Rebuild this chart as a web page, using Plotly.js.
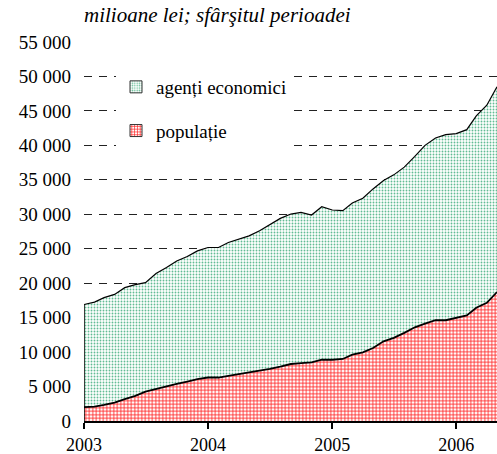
<!DOCTYPE html>
<html>
<head>
<meta charset="utf-8">
<script src="https://cdn.plot.ly/plotly-3.0.1.min.js"></script>
<style>
  html, body { margin: 0; padding: 0; background: #ffffff; }
  #chart { width: 497px; height: 454px; }
</style>
</head>
<body>
<div id="chart"></div>
<script>
// Months (end of period), Jan 2003 .. May 2006
const months = [
  '2003-01','2003-02','2003-03','2003-04','2003-05','2003-06','2003-07','2003-08','2003-09','2003-10','2003-11','2003-12',
  '2004-01','2004-02','2004-03','2004-04','2004-05','2004-06','2004-07','2004-08','2004-09','2004-10','2004-11','2004-12',
  '2005-01','2005-02','2005-03','2005-04','2005-05','2005-06','2005-07','2005-08','2005-09','2005-10','2005-11','2005-12',
  '2006-01','2006-02','2006-03','2006-04','2006-05'
];

// populație (households), milioane lei
const populatie = [
  2000, 2090, 2330, 2670, 3160, 3650, 4270, 4670, 5000, 5390, 5730, 6080,
  6310, 6310, 6560, 6800, 7040, 7330, 7580, 7900, 8270, 8410, 8500, 8890,
  8890, 9000, 9620, 9960, 10600, 11560, 12060, 12790, 13600, 14140, 14620, 14620,
  14970, 15310, 16430, 17160, 18710
];

// agenți economici (companies), milioane lei — stacked on top of populație
const agenti = [
  14900, 15160, 15570, 15700, 16190, 16130, 15800, 16720, 17260, 17840, 18130, 18610,
  18870, 18870, 19350, 19590, 19830, 20270, 20850, 21500, 21760, 21870, 21390, 22210,
  21730, 21520, 22020, 22360, 23080, 23330, 23660, 24050, 24790, 25860, 26450, 26930,
  26730, 26970, 27850, 28670, 29800
];

const seriesNames = ['agenți economici', 'populație'];
const titleText = 'milioane lei; sfârşitul perioadei';
const yTickVals = [0, 5000, 10000, 15000, 20000, 25000, 30000, 35000, 40000, 45000, 50000, 55000];

const FONT = 'Liberation Serif, Times New Roman, serif';
const greenPattern = { shape: '.', fgcolor: '#62bc94', bgcolor: '#ffffff', size: 3, solidity: 0.3 };
const redPattern = { shape: '+', fgcolor: '#ff2020', bgcolor: '#ffffff', size: 3.5, solidity: 0.42 };

const traces = [
  {
    type: 'scatter', mode: 'lines', x: months, y: populatie, stackgroup: 'one',
    fill: 'tozeroy', fillpattern: redPattern, fillcolor: '#ffffff',
    line: { color: '#000000', width: 1.8 }, showlegend: false, hoverinfo: 'skip'
  },
  {
    type: 'scatter', mode: 'lines', x: months, y: agenti, stackgroup: 'one',
    fill: 'tonexty', fillpattern: greenPattern, fillcolor: '#ffffff',
    line: { color: '#000000', width: 1.2 }, showlegend: false, hoverinfo: 'skip'
  },
  // legend entries only (no visible bar)
  {
    type: 'bar', x: [months[0]], y: [null], name: seriesNames[0], legendgroup: 'a',
    marker: { color: '#ffffff', pattern: greenPattern, line: { color: '#333333', width: 1 } }
  },
  {
    type: 'bar', x: [months[0]], y: [null], name: seriesNames[1], legendgroup: 'b',
    marker: { color: '#ffffff', pattern: redPattern, line: { color: '#333333', width: 1 } }
  }
];

const layout = {
  width: 497, height: 454,
  margin: { l: 84, r: 0, t: 42, b: 33, pad: 0 },
  paper_bgcolor: '#ffffff', plot_bgcolor: '#ffffff',
  font: { family: FONT, size: 19, color: '#000000' },
  separators: ', ',
  title: {
    text: titleText,
    font: { family: FONT, size: 21, style: 'italic', color: '#000000' },
    xref: 'paper', x: 0, xanchor: 'left',
    yref: 'container', y: 1 - 15 / 454, yanchor: 'middle'
  },
  xaxis: {
    type: 'date',
    range: [months[0], months[months.length - 1]],
    dtick: 'M12', tick0: '2003-01-01', tickformat: '%Y',
    showgrid: false, zeroline: false,
    showline: true, linecolor: '#000000', linewidth: 2,
    ticks: 'outside', ticklen: 6, tickwidth: 2, tickcolor: '#000000',
    tickfont: { family: FONT, size: 18, color: '#000000' },
    fixedrange: true
  },
  yaxis: {
    range: [0, 55000],
    tickvals: yTickVals, tickformat: ',.0f', separatethousands: true,
    showgrid: true, gridcolor: '#222222', gridwidth: 1, griddash: '8px,7px',
    zeroline: false, showline: false, ticks: '',
    ticklabelstandoff: 12,
    tickfont: { family: FONT, size: 19, color: '#000000' },
    fixedrange: true
  },
  showlegend: true,
  legend: {
    x: (116 - 84) / 413, xanchor: 'left',
    y: (421 - 68) / 379, yanchor: 'top',
    bgcolor: '#ffffff', borderwidth: 0,
    traceorder: 'grouped', tracegroupgap: 16,
    font: { family: FONT, size: 19, color: '#000000' }
  },
  shapes: [
    // left edge outline of the stacked area
    {
      type: 'line', xref: 'x', yref: 'y', layer: 'above',
      x0: months[0], x1: months[0], y0: 0, y1: populatie[0] + agenti[0],
      line: { color: '#000000', width: 1.5 }
    }
  ]
};

Plotly.newPlot('chart', traces, layout, { displayModeBar: false, staticPlot: true });
</script>
</body>
</html>
